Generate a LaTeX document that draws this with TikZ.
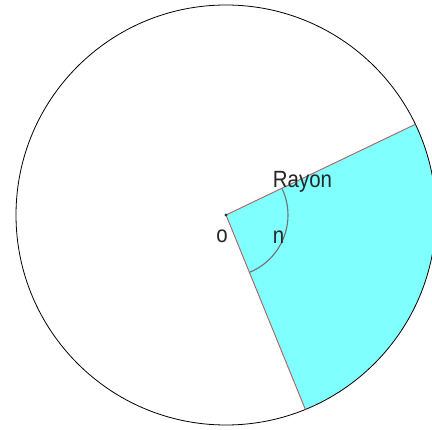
\documentclass[tikz,border=0pt]{standalone}
\usepackage{fontspec}
\setmainfont{Liberation Sans}
\usetikzlibrary{calc}
\definecolor{sectorfill}{HTML}{80FFFF}
\definecolor{raycol}{HTML}{B06060}
\definecolor{arccol}{HTML}{707070}
\newcommand{\tall}[1]{\scalebox{1}[1.15]{#1}}
\begin{document}
\begin{tikzpicture}[x=1bp,y=1bp,
  lbl/.style={inner sep=0pt,anchor=base,text=black!85,font=\fontsize{20.5}{20.5}\selectfont},
  ray/.style={draw=raycol,line width=0.9bp},
  rim/.style={draw=black,line width=0.8bp},
  angarc/.style={draw=arccol,line width=1.1bp}]
\useasboundingbox (0,0) rectangle (432,430);
\fill[white] (0,0) rectangle (432,430);
\coordinate (C) at (226,215);
\coordinate (A) at ($(C)+(25.6:210)$);
\coordinate (B) at ($(C)+(-67.8:210)$);
\fill[sectorfill] (C) -- (A) arc[start angle=25.6,end angle=-67.8,radius=210] -- cycle;
\draw[rim] (C) circle[radius=210];
\draw[ray] (C) -- (A);
\draw[ray] (C) -- (B);
\draw[angarc] ($(C)+(25.6:62)$) arc[start angle=25.6,end angle=-67.8,radius=62];
\fill[black!80] (C) circle[radius=1.6];
\node[lbl] (rayon) at (302.5,243) {\tall{Rayon}};
\node[lbl] (o) at (222,188) {\tall{o}};
\node[lbl] (n) at (278.5,187) {\tall{n}};
\end{tikzpicture}
\end{document}
